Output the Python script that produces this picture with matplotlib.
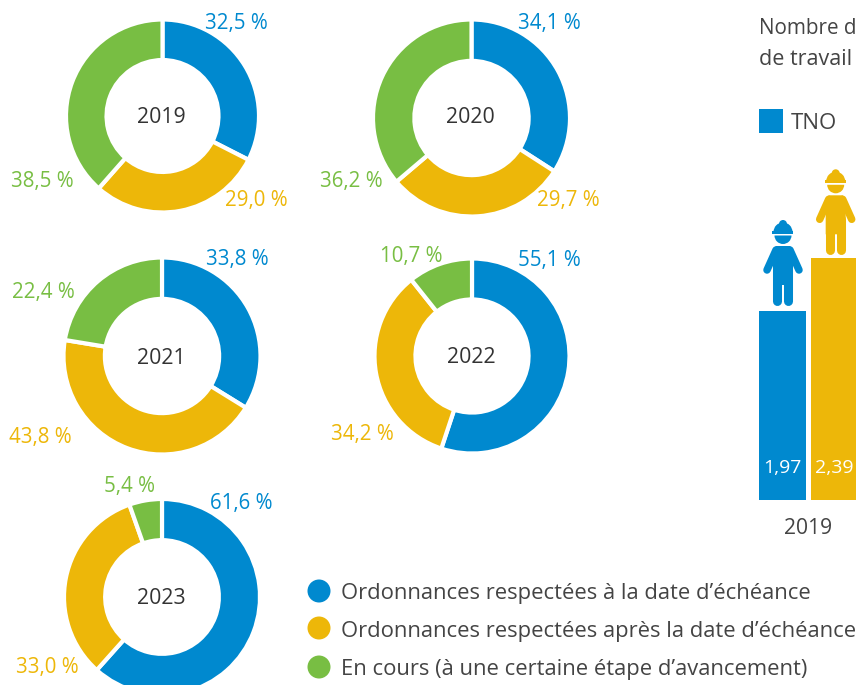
import matplotlib
matplotlib.use("Agg")
import matplotlib.pyplot as plt
from matplotlib.patches import Circle, Polygon, Rectangle, Wedge

plt.rcParams["font.family"] = ["Open Sans", "DejaVu Sans"]

W, H = 856, 685
BLUE = "#0089CF"
YELLOW = "#EDB709"
GREEN = "#78BE43"
GREY = "#444444"

# -----------------------------
# DATA
# -----------------------------
years = ["2019", "2020", "2021", "2022", "2023"]
on_time = [32.5, 34.1, 33.8, 55.1, 61.6]
late = [29.0, 29.7, 43.8, 34.2, 33.0]
in_progress = [38.5, 36.2, 22.4, 10.7, 5.4]

legend_labels = [
    "Ordonnances respectées à la date d’échéance",
    "Ordonnances respectées après la date d’échéance",
    "En cours (à une certaine étape d’avancement)",
]

bar_year = "2019"
bar_values = [1.97, 2.39]

# -----------------------------
# LAYOUT (pixels)
# -----------------------------
centers = [(162.5, 116), (471.5, 118), (162, 356), (472, 356), (162, 597)]
radii = [95.5, 97.5, 97.5, 96.5, 97]
year_y = [117, 117, 358, 357, 599]
label_pos = [
    [(236, 23), (256, 200), (42, 181)],
    [(549, 23), (568, 200), (351, 181)],
    [(237, 259), (40, 437), (43, 292)],
    [(549, 260), (362, 434), (411, 256)],
    [(241, 504), (47, 668), (130, 486)],
]

fig = plt.figure(figsize=(W / 100, H / 100), dpi=100)


def pixel_axes(x0, y0, x1, y1):
    return fig.add_axes([x0 / W, 1 - y1 / H, (x1 - x0) / W, (y1 - y0) / H])


# overlay for texts and icons, in pixels
page = fig.add_axes([0, 0, 1, 1], zorder=5)
page.set_xlim(0, W)
page.set_ylim(H, 0)
page.axis("off")
page.patch.set_alpha(0)

# -----------------------------
# DONUTS
# -----------------------------
for i, year in enumerate(years):
    cx, cy = centers[i]
    r = radii[i] + 1  # white edge eats into the ring
    ax = pixel_axes(cx - r, cy - r, cx + r, cy + r)
    ax.pie(
        [on_time[i], late[i], in_progress[i]],
        colors=[BLUE, YELLOW, GREEN],
        startangle=90,
        counterclock=False,
        radius=1,
        wedgeprops={"width": 0.42, "edgecolor": "white", "linewidth": 3},
    )
    ax.set_xlim(-1, 1)
    ax.set_ylim(-1, 1)
    page.text(cx - 1, year_y[i], year, color="#333333", fontsize=15.3, ha="center", va="center")
    values = [on_time[i], late[i], in_progress[i]]
    for (lx, ly), v, c in zip(label_pos[i], values, [BLUE, YELLOW, GREEN]):
        txt = f"{v:.1f} %".replace(".", ",")
        page.text(lx, ly, txt, color=c, fontsize=14.8, ha="center", va="center")

# -----------------------------
# LEGEND
# -----------------------------
for y, label, c in zip([591, 628, 667], legend_labels, [BLUE, YELLOW, GREEN]):
    page.add_patch(Circle((319, y), 11.5, color=c, lw=0))
    page.text(341, y + 3, label, color=GREY, fontsize=15.8, ha="left", va="center")

# -----------------------------
# BARS
# -----------------------------
bar_ax = pixel_axes(759, 258, 858, 500)
bar_ax.bar([0, 1], bar_values, width=47 / 52, color=[BLUE, YELLOW])
bar_ax.set_xlim(-47 / 104, 1 + 47 / 104)
bar_ax.set_ylim(0.47, 2.39)
bar_ax.axis("off")
for x, v in zip([782, 834.5], bar_values):
    page.text(x, 468, f"{v:.2f}".replace(".", ","), color="white", fontsize=14,
              ha="center", va="center")
page.text(808, 528, bar_year, color=GREY, fontsize=15.2, ha="center", va="center")

page.text(759, 28, "Nombre d", color=GREY, fontsize=14.9, ha="left", va="center")
page.text(759, 59, "de travail", color=GREY, fontsize=15.5, ha="left", va="center")
page.add_patch(Rectangle((759, 109), 24, 24, color=BLUE, lw=0))
page.text(791, 123.5, "TNO", color=GREY, fontsize=16, ha="left", va="center")


# -----------------------------
# WORKER ICONS
# -----------------------------
def worker(dx, dy, c):
    def px(x, y):
        return (x + dx, y + dy)

    # helmet
    page.add_patch(Wedge(px(783, 232), 9.5, 180, 360, color=c, lw=0))
    page.add_patch(Circle(px(783, 224), 4, color=c, lw=0))
    page.add_patch(Rectangle(px(772.5, 231), 21, 3, color=c, lw=0))
    # face
    page.add_patch(Wedge(px(783, 235.5), 8.5, 0, 180, color=c, lw=0))
    # torso
    page.add_patch(Polygon([px(776, 246), px(790, 246), px(793, 249), px(793, 285),
                            px(773, 285), px(773, 249)], color=c, lw=0))
    # arms
    for x0, x1 in ((776, 767), (790, 799)):
        page.plot(*zip(px(x0, 250), px(x1, 270)), color=c, lw=5.4, solid_capstyle="round")
    # legs
    for lx in (777.5, 788.5):
        page.plot(*zip(px(lx, 270), px(lx, 300.5)), color=c, lw=6.5, solid_capstyle="round")


worker(0, 0, BLUE)
worker(52.7, -50.7, YELLOW)

fig.savefig("out.png", dpi=100)
